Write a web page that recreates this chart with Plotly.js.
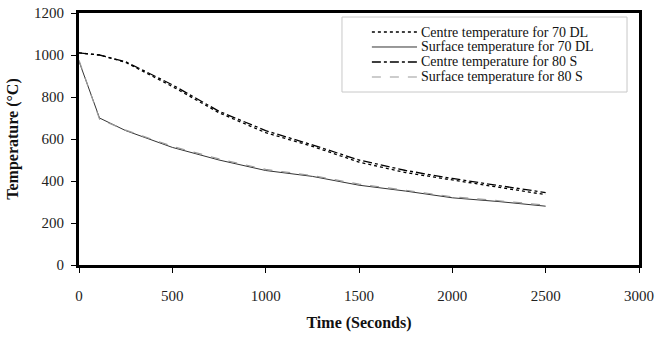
<!DOCTYPE html>
<html>
<head>
<meta charset="utf-8">
<script src="https://cdn.plot.ly/plotly-3.0.1.min.js"></script>
<style>html,body{margin:0;padding:0;background:#fff;}#chart{width:655px;height:338px;}</style>
</head>
<body>
<div id="chart"></div>
<script>
const timeSec = [0, 110, 250, 500, 750, 1000, 1250, 1500, 1750, 2000, 2250, 2500];
const centre70DL = [1010, 1000, 965, 850, 725, 630, 565, 490, 440, 405, 370, 335];
const surface70DL = [970, 700, 640, 560, 500, 450, 422, 380, 352, 320, 302, 280];
const centre80S = [1010, 1000, 968, 858, 732, 640, 572, 500, 450, 412, 378, 345];
const surface80S = [975, 695, 642, 565, 505, 455, 426, 385, 356, 325, 306, 285];
const seriesNames = ["Centre temperature for 70 DL", "Surface temperature for 70 DL", "Centre temperature for 80 S", "Surface temperature for 80 S"];
const xTicks = [0, 500, 1000, 1500, 2000, 2500, 3000];
const yTicks = [0, 200, 400, 600, 800, 1000, 1200];

const serif = "'Liberation Serif', 'Times New Roman', 'DejaVu Serif', serif";
const lineStyles = [
  {color: "#000", width: 1.3, dash: "dot"},
  {color: "#333", width: 1},
  {color: "#000", width: 1.3, dash: "dashdot"},
  {color: "#999", width: 1.2, dash: "dash"}
];
const seriesValues = [centre70DL, surface70DL, centre80S, surface80S];
const traces = seriesValues.map((vals, i) => ({
  x: timeSec, y: vals, name: seriesNames[i], mode: "lines", line: lineStyles[i], showlegend: false
}));

// Legend drawn as a compact box (Plotly's legend rows are taller than the reference's)
const legBox = {x0: 0.4696, x1: 0.9786, y0: 0.6865, y1: 0.984};
const rowY = i => 0.9246 - i * 0.0595;
const shapes = [{type: "rect", xref: "paper", yref: "paper", x0: legBox.x0, x1: legBox.x1, y0: legBox.y0, y1: legBox.y1,
  line: {color: "#c8c8c8", width: 1}, fillcolor: "#fff", layer: "above"}];
const annotations = [];
seriesNames.forEach((nm, i) => {
  shapes.push({type: "line", xref: "paper", yref: "paper", x0: 0.523, x1: 0.6036, y0: rowY(i), y1: rowY(i), line: lineStyles[i], layer: "above"});
  annotations.push({xref: "paper", yref: "paper", x: 0.607, y: rowY(i), xanchor: "left", yanchor: "middle", showarrow: false,
    text: nm, font: {family: serif, size: 14, color: "#111"}});
});

const layout = {
  width: 655, height: 338,
  margin: {l: 79, r: 16, t: 13, b: 73},
  paper_bgcolor: "#fff", plot_bgcolor: "#fff",
  font: {family: serif, size: 15, color: "#222"},
  showlegend: false,
  shapes: shapes,
  annotations: annotations,
  xaxis: {
    range: [0, 3000], tickvals: xTicks, ticktext: xTicks.map(String),
    showgrid: false, zeroline: false, showline: true, linecolor: "#000", linewidth: 3, mirror: true,
    ticks: "outside", ticklen: 5, tickcolor: "#000", tickwidth: 1, ticklabelstandoff: 10,
    tickfont: {family: serif, size: 15, color: "#222"},
    title: {text: "<b>Time (Seconds)</b>", font: {family: serif, size: 16, color: "#111"}, standoff: 14}
  },
  yaxis: {
    range: [0, 1200], tickvals: yTicks, ticktext: yTicks.map(String),
    showgrid: false, zeroline: false, showline: true, linecolor: "#000", linewidth: 3, mirror: true,
    ticks: "outside", ticklen: 5, tickcolor: "#000", tickwidth: 1, ticklabelstandoff: 4,
    tickfont: {family: serif, size: 15, color: "#222"},
    title: {text: "<b>Temperature (°C)</b>", font: {family: serif, size: 16, color: "#111"}, standoff: 12}
  }
};
Plotly.newPlot("chart", traces, layout, {displayModeBar: false, staticPlot: true});
</script>
</body>
</html>
